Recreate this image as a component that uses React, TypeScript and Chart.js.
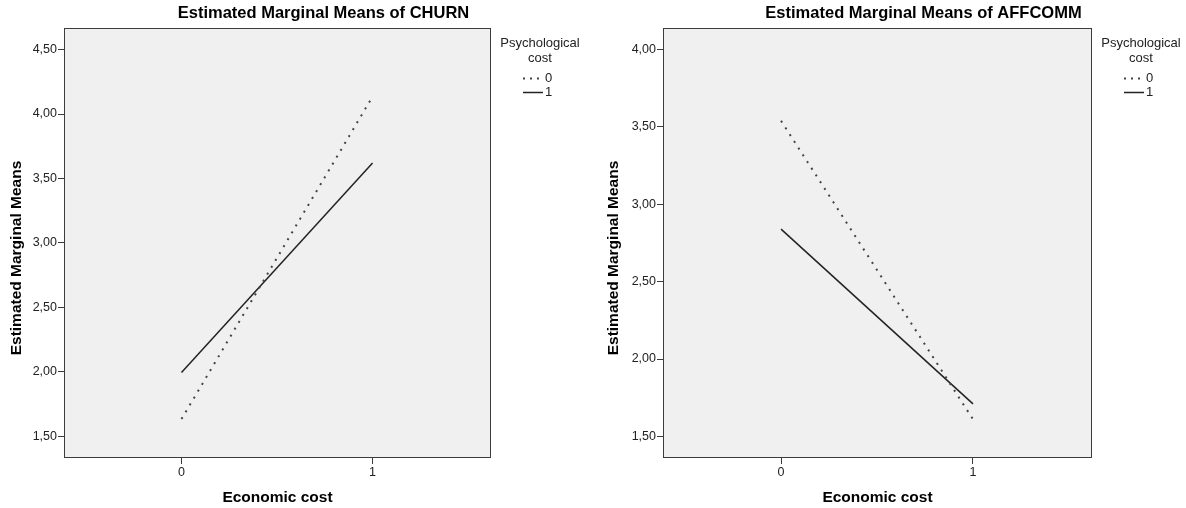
import React, { useEffect, useRef } from 'react';
import { Chart, registerables } from 'chart.js';

Chart.register(...registerables);

// ---- Data ----
const economicCost = [0, 1];
const psychLevels = ['0', '1'];
const churnPsych0 = [1.635, 4.135];
const churnPsych1 = [1.995, 3.62];
const affcommPsych0 = [3.54, 1.61];
const affcommPsych1 = [2.84, 1.71];
const churnYTicks = [1.5, 2.0, 2.5, 3.0, 3.5, 4.0, 4.5];
const affcommYTicks = [1.5, 2.0, 2.5, 3.0, 3.5, 4.0];
const xTicks = [0, 1];
const churnYRange = [1.333, 4.667];
const affcommYRange = [1.36, 4.14];
const xRange = [-0.615, 1.62];
const legendTitle = ['Psychological', 'cost'];
const xTitle = 'Economic cost';
const yTitle = 'Estimated Marginal Means';

const FONT = '"Liberation Sans", Arial, sans-serif';
const fmt = (v: number) => v.toFixed(2).replace('.', ',');

type PanelProps = {
  title: string;
  s0: number[];
  s1: number[];
  yTicks: number[];
  yRange: number[];
  left: number;
  width: number;
  axisWidth: number;
  padRight: number;
  yTitleX: number;
};

function Panel(p: PanelProps) {
  const ref = useRef<HTMLCanvasElement | null>(null);
  useEffect(() => {
    if (!ref.current) return;
    const decor = {
      id: 'decor',
      beforeDraw(chart: any) {
        const { ctx, chartArea: a } = chart;
        ctx.save();
        ctx.fillStyle = '#f0f0f0';
        ctx.fillRect(a.left, a.top, a.right - a.left, a.bottom - a.top);
        ctx.restore();
      },
      afterDraw(chart: any) {
        const { ctx, chartArea: a } = chart;
        ctx.save();
        ctx.strokeStyle = '#3c3c3c';
        ctx.lineWidth = 1;
        ctx.strokeRect(a.left + 0.5, a.top + 0.5, a.right - a.left - 1, a.bottom - a.top - 1);
        // title
        ctx.fillStyle = '#000';
        ctx.font = `bold 16.5px ${FONT}`;
        ctx.textAlign = 'center';
        ctx.textBaseline = 'middle';
        ctx.fillText(p.title, (a.left + a.right + 92) / 2, 13);
        // y axis title
        ctx.save();
        ctx.translate(p.yTitleX, (a.top + a.bottom) / 2 + 15);
        ctx.rotate(-Math.PI / 2);
        ctx.font = `bold 15.5px ${FONT}`;
        ctx.fillText(yTitle, 0, 0);
        ctx.restore();
        // legend
        ctx.font = `13px ${FONT}`;
        ctx.fillStyle = '#222';
        const cx = a.right + 49;
        ctx.fillText(legendTitle[0], cx, a.top + 15);
        ctx.fillText(legendTitle[1], cx, a.top + 30);
        const ys = [a.top + 50, a.top + 64];
        ctx.textAlign = 'left';
        psychLevels.forEach((lv, i) => {
          ctx.beginPath();
          ctx.strokeStyle = i === 0 ? '#444' : '#222';
          ctx.lineWidth = i === 0 ? 2 : 1.5;
          ctx.setLineDash(i === 0 ? [2, 5] : []);
          ctx.moveTo(a.right + 32, ys[i] + 0.5);
          ctx.lineTo(a.right + 52, ys[i] + 0.5);
          ctx.stroke();
          ctx.setLineDash([]);
          ctx.fillText(lv, a.right + 54, ys[i]);
        });
        ctx.restore();
      },
    };
    const chart = new Chart(ref.current, {
      type: 'line',
      data: {
        datasets: [
          {
            label: psychLevels[0],
            data: economicCost.map((x, i) => ({ x, y: p.s0[i] })),
            borderColor: '#444',
            borderWidth: 2,
            borderDash: [2, 6],
            pointRadius: 0,
            fill: false,
          },
          {
            label: psychLevels[1],
            data: economicCost.map((x, i) => ({ x, y: p.s1[i] })),
            borderColor: '#222',
            borderWidth: 1.5,
            pointRadius: 0,
            fill: false,
          },
        ],
      },
      options: {
        animation: false,
        responsive: false,
        devicePixelRatio: 1,
        layout: { padding: { left: 0, right: p.padRight, top: 28, bottom: 0 } },
        plugins: { legend: { display: false }, tooltip: { enabled: false }, title: { display: false } },
        scales: {
          x: {
            type: 'linear',
            min: xRange[0],
            max: xRange[1],
            afterBuildTicks: (s: any) => {
              s.ticks = xTicks.map((v) => ({ value: v }));
            },
            afterFit: (s: any) => {
              s.height = 50;
            },
            ticks: {
              font: { family: FONT, size: 12.5 },
              color: '#222',
              padding: 1,
              callback: (v: any) => String(v),
            },
            grid: { drawOnChartArea: false, drawTicks: true, tickLength: 6, color: '#3c3c3c' },
            border: { display: false },
            title: {
              display: true,
              text: xTitle,
              font: { family: FONT, size: 15.5, weight: 'bold' },
              color: '#000',
              padding: { top: 0, bottom: 1 },
            },
          },
          y: {
            type: 'linear',
            min: p.yRange[0],
            max: p.yRange[1],
            afterBuildTicks: (s: any) => {
              s.ticks = p.yTicks.map((v) => ({ value: v }));
            },
            afterFit: (s: any) => {
              s.width = p.axisWidth;
            },
            ticks: {
              font: { family: FONT, size: 12.5 },
              color: '#222',
              padding: 1,
              callback: (v: any) => fmt(Number(v)),
            },
            grid: { drawOnChartArea: false, drawTicks: true, tickLength: 6, color: '#3c3c3c' },
            border: { display: false },
            title: { display: false },
          },
        },
      },
      plugins: [decor],
    } as any);
    return () => chart.destroy();
  }, []);
  return (
    <canvas
      ref={ref}
      width={p.width}
      height={508}
      style={{ position: 'absolute', left: p.left, top: 0, width: p.width, height: 508 }}
    />
  );
}

export default function App() {
  return (
    <div style={{ position: 'fixed', left: 0, top: 0, width: 1186, height: 508, background: '#fff' }}>
      <Panel
        title="Estimated Marginal Means of CHURN"
        s0={churnPsych0}
        s1={churnPsych1}
        yTicks={churnYTicks}
        yRange={churnYRange}
        left={0}
        width={593}
        axisWidth={64}
        padRight={102}
        yTitleX={17}
      />
      <Panel
        title="Estimated Marginal Means of AFFCOMM"
        s0={affcommPsych0}
        s1={affcommPsych1}
        yTicks={affcommYTicks}
        yRange={affcommYRange}
        left={593}
        width={593}
        axisWidth={70}
        padRight={94}
        yTitleX={21}
      />
    </div>
  );
}
